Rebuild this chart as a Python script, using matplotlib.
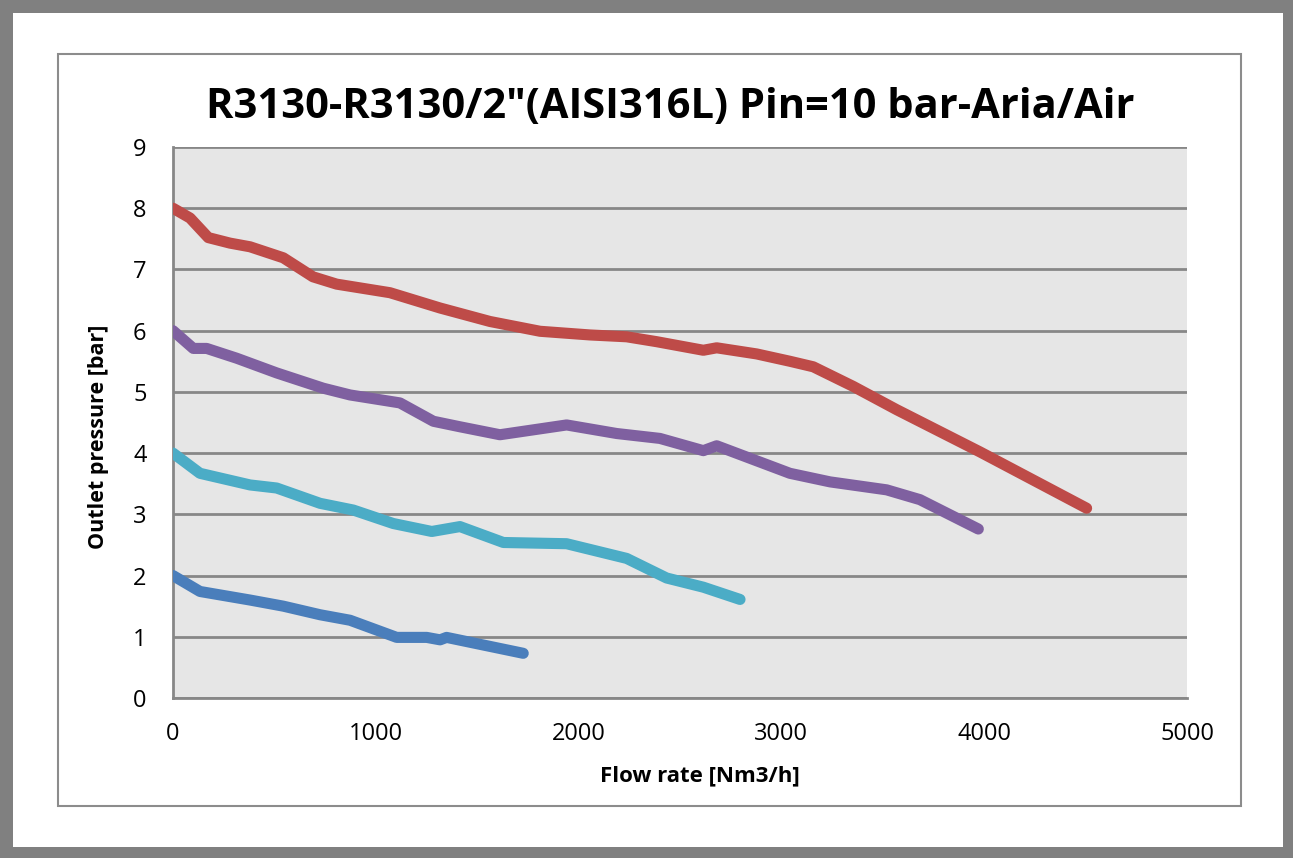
import matplotlib.pyplot as plt
from matplotlib.patches import Rectangle

# Pin = 10 bar, curves for set pressures 8, 6, 4, 2 bar
red_x = [0, 84, 174, 281, 380, 544, 690, 807, 1070, 1317, 1563, 1810, 2056, 2237, 2385, 2615, 2681,
         2878, 3042, 3157, 3354, 3568, 3979, 4505]
red_y = [8.0, 7.84, 7.52, 7.43, 7.37, 7.19, 6.88, 6.76, 6.62, 6.37, 6.15, 5.99, 5.93, 5.90, 5.82, 5.68, 5.72,
         5.62, 5.50, 5.41, 5.09, 4.71, 4.02, 3.10]

purple_x = [0, 100, 166, 314, 511, 741, 873, 1119, 1284, 1415, 1612, 1941, 2188, 2401, 2615, 2681,
            3042, 3240, 3519, 3683, 3971]
purple_y = [6.0, 5.71, 5.71, 5.55, 5.31, 5.06, 4.95, 4.82, 4.52, 4.43, 4.30, 4.46, 4.32, 4.24, 4.04, 4.12,
            3.67, 3.53, 3.40, 3.24, 2.76]

cyan_x = [0, 133, 380, 511, 725, 889, 1086, 1276, 1415, 1629, 1941, 2237, 2434, 2615, 2796]
cyan_y = [4.0, 3.67, 3.48, 3.43, 3.18, 3.07, 2.85, 2.72, 2.80, 2.54, 2.52, 2.28, 1.96, 1.81, 1.61]

blue_x = [0, 133, 380, 544, 725, 873, 1103, 1251, 1317, 1349, 1727]
blue_y = [2.0, 1.74, 1.60, 1.50, 1.36, 1.27, 0.99, 0.99, 0.95, 0.99, 0.73]

W, H = 1293, 858
fig = plt.figure(figsize=(W / 100, H / 100), dpi=100, facecolor='#808080')

# white sheet inside the gray frame, then the chart box
fig.add_artist(Rectangle((13 / W, 11 / H), 1270 / W, 834 / H, transform=fig.transFigure,
                         facecolor='white', edgecolor='none', zorder=0))
fig.add_artist(Rectangle((58 / W, (H - 806) / H), (1241 - 58) / W, (806 - 54) / H, transform=fig.transFigure,
                         facecolor='white', edgecolor='#8c8c8c', lw=1.5, zorder=0))

ax = fig.add_axes([173 / W, (H - 698) / H, 1014 / W, 551 / H])
ax.set_facecolor('#e6e6e6')

lw = 8
for xs, ys, c in [(blue_x, blue_y, '#4a7ebb'), (cyan_x, cyan_y, '#4bacc6'),
                  (purple_x, purple_y, '#7f60a0'), (red_x, red_y, '#be4b48')]:
    ax.plot(xs, ys, color=c, lw=lw, solid_capstyle='round', solid_joinstyle='round', zorder=3)

ax.set_xlim(0, 5000)
ax.set_ylim(0, 9)
ax.set_xticks(range(0, 5001, 1000))
ax.set_yticks(range(0, 10))
ax.yaxis.grid(True, color='#878787', lw=2)
ax.set_axisbelow(True)
for s in ['top', 'right']:
    ax.spines[s].set_visible(False)
for s in ['left', 'bottom']:
    ax.spines[s].set_color('#878787')
    ax.spines[s].set_linewidth(2)
ax.tick_params(length=0, labelsize=17, colors='black')
ax.tick_params(axis='y', pad=19)
ax.tick_params(axis='x', pad=17)
for t in ax.get_xticklabels() + ax.get_yticklabels():
    t.set_fontfamily('Open Sans')

ax.set_xlabel('Flow rate [Nm3/h]', fontsize=16, fontweight='bold', family='Open Sans')
ax.set_ylabel('Outlet pressure [bar]', fontsize=15.5, fontweight='bold', family='Open Sans')
ax.xaxis.set_label_coords((700 - 173) / 1014, -(765 - 698) / 551)
ax.yaxis.set_label_coords(-(173 - 109) / 1014, (698 - 437) / 551)

fig.text(670 / W, 1 - 108 / H, 'R3130-R3130/2"(AISI316L) Pin=10 bar-Aria/Air', ha='center', va='center',
         fontsize=30, fontweight='bold', family='Open Sans')

fig.savefig('out.png', dpi=100, facecolor=fig.get_facecolor())
